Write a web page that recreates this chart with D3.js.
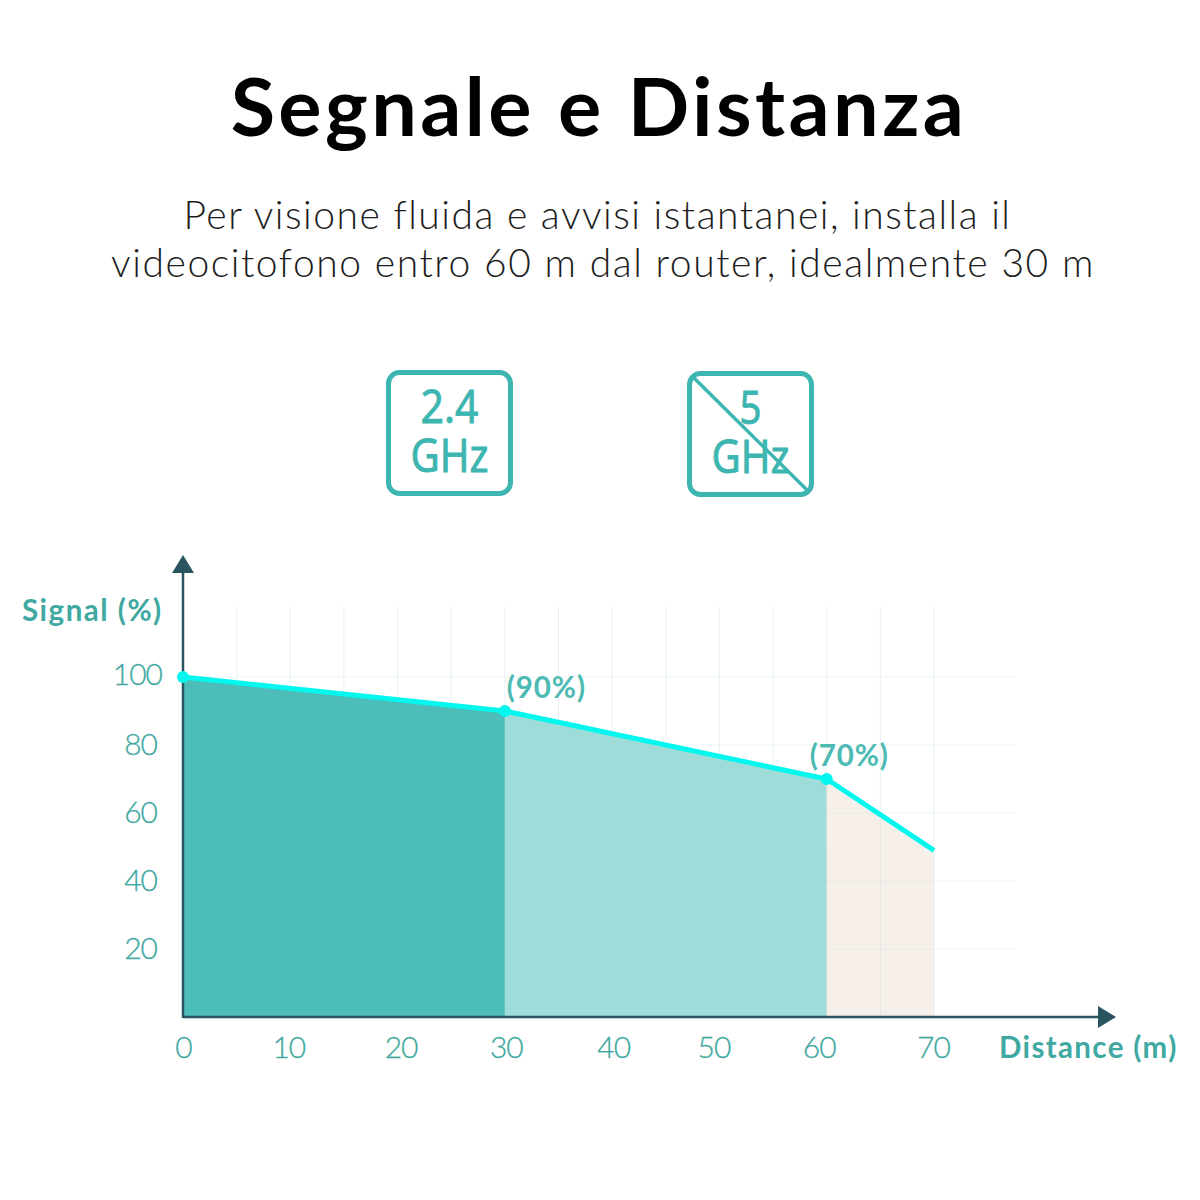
<!DOCTYPE html>
<html lang="it">
<head>
<meta charset="utf-8">
<title>Segnale e Distanza</title>
<script src="https://cdn.jsdelivr.net/npm/d3@7"></script>
<style>
  html, body { margin: 0; background: #fff; }
  svg { display: block; }
  text { font-family: Lato, "Noto Sans", sans-serif; }
</style>
</head>
<body>
<svg id="chart" width="1200" height="1200"></svg>
<script>
// Signal strength against distance from the router
const distances = [0, 30, 60, 70];
const signalValues = [100, 90, 70, 49];
const xTickValues = [0, 10, 20, 30, 40, 50, 60, 70];
const yTickValues = [20, 40, 60, 80, 100];
const xGridValues = [5, 10, 15, 20, 25, 30, 35, 40, 45, 50, 55, 60, 65, 70];
const zoneStarts = [0, 30, 60];
const zoneEnds = [30, 60, 70];
const zoneColors = ["#4dbdba", "#9ddcd9", "#f7efe9"];
const callouts = [{ distance: 30, text: "(90%)" }, { distance: 60, text: "(70%)" }];
const bands = ["2.4", "5"];

const TEAL = "#3fa9a1", BADGE = "#3db5b0", AXIS = "#2a5560", LINE = "#04f7ee";
const svg = d3.select("#chart");
const data = distances.map((d, i) => ({ d, s: signalValues[i] }));

const x = d3.scaleLinear().domain([0, 70]).range([183, 934]);
const y = d3.scaleLinear().domain([0, 100]).range([1017, 677]);

// Heading
svg.append("text").attr("x", 599).attr("y", 136).attr("text-anchor", "middle")
  .attr("font-size", 81).attr("font-weight", 700).attr("letter-spacing", 3.4).attr("fill", "#000")
  .text("Segnale e Distanza");
[["Per visione fluida e avvisi istantanei, installa il", 597.5, 229, 1.5],
 ["videocitofono entro 60 m dal router, idealmente 30 m", 603, 277, 1.57]].forEach(([t, px, py, sp]) => {
  svg.append("text").attr("x", px).attr("y", py).attr("text-anchor", "middle")
    .attr("font-size", 39).attr("font-weight", 300).attr("letter-spacing", sp).attr("fill", "#1c1c1c").text(t);
});

// Frequency badges: 2.4 GHz supported, 5 GHz struck through
const badge = svg.selectAll("g.badge").data(bands).join("g").attr("class", "badge")
  .attr("transform", (d, i) => `translate(${i ? 689.5 : 388.5},${i ? 373.5 : 372.5})`);
badge.append("rect").attr("width", 122).attr("height", 121).attr("rx", 11)
  .attr("fill", "#fff").attr("stroke", BADGE).attr("stroke-width", 5);
badge.append("text").attr("x", 61).attr("y", 50.5).attr("text-anchor", "middle")
  .style("font-family", "'Noto Sans'").attr("font-size", 46).attr("fill", BADGE)
  .attr("stroke", BADGE).attr("stroke-width", 0.8)
  .attr("textLength", d => (d === "5" ? 22 : 58)).attr("lengthAdjust", "spacingAndGlyphs").text(d => d);
badge.append("text").attr("x", 61).attr("y", 99).attr("text-anchor", "middle")
  .style("font-family", "'Noto Sans'").attr("font-size", 46).attr("fill", BADGE)
  .attr("stroke", BADGE).attr("stroke-width", 0.8)
  .attr("textLength", 78).attr("lengthAdjust", "spacingAndGlyphs").text("GHz");
badge.filter(d => d === "5").append("line").attr("x1", 3).attr("y1", 3).attr("x2", 119).attr("y2", 118)
  .attr("stroke", BADGE).attr("stroke-width", 3.5);

// Coverage zones under the signal curve; the grid shows through all but the first
const area = d3.area().x(p => x(p.d)).y0(y(0)).y1(p => y(p.s));
const drawZone = i => {
  const seg = data.filter(p => p.d >= zoneStarts[i] && p.d <= zoneEnds[i]);
  svg.append("path").datum(seg).attr("d", area).attr("fill", zoneColors[i]);
};
drawZone(1);
drawZone(2);

// Grid
svg.append("g").selectAll("line").data(xGridValues).join("line")
  .attr("x1", d => x(d)).attr("x2", d => x(d)).attr("y1", 607).attr("y2", y(0))
  .attr("stroke", "#b9d6dc").attr("stroke-opacity", 0.32);
svg.append("g").selectAll("line").data(yTickValues).join("line")
  .attr("x1", x(0)).attr("x2", 1016).attr("y1", d => y(d)).attr("y2", d => y(d))
  .attr("stroke", "#b9d6dc").attr("stroke-opacity", 0.2);
drawZone(0);

// Tick labels
const xLabelNudge = { 10: -2, 20: 3, 30: 1, 40: 1, 50: -6, 60: -8, 70: -1 };
const yLabelNudge = { 20: -5, 40: -5, 60: -5, 80: -5, 100: 0 };
const xAxis = svg.append("g").attr("transform", `translate(0,${y(0)})`)
  .call(d3.axisBottom(x).tickValues(xTickValues).tickSize(0).tickPadding(20).tickFormat(d3.format("d")));
const yAxis = svg.append("g").attr("transform", `translate(${x(0)},0)`)
  .call(d3.axisLeft(y).tickValues(yTickValues).tickSize(0).tickPadding(21).tickFormat(d3.format("d")));
[xAxis, yAxis].forEach(a => {
  a.select(".domain").remove();
  a.selectAll("text").style("font-family", "Lato").attr("font-size", 30).attr("font-weight", 300)
    .attr("letter-spacing", -1).attr("fill", TEAL).attr("stroke", TEAL).attr("stroke-width", 0.3);
});
xAxis.selectAll("text").attr("dx", d => xLabelNudge[d] || 0).attr("dy", "0.71em");
yAxis.selectAll("text").attr("dx", d => yLabelNudge[d]).attr("dy", d => (d === 100 ? "0.26em" : "0.31em"));

// Axis lines with arrowheads
svg.append("line").attr("x1", x(0)).attr("x2", x(0)).attr("y1", 570).attr("y2", y(0) + 1)
  .attr("stroke", AXIS).attr("stroke-width", 2.5);
svg.append("line").attr("x1", x(0)).attr("x2", 1100).attr("y1", y(0)).attr("y2", y(0))
  .attr("stroke", AXIS).attr("stroke-width", 2.5);
svg.append("path").attr("d", d3.line()([[x(0), 555], [x(0) + 11, 573], [x(0) - 11, 573]]) + "Z").attr("fill", AXIS);
svg.append("path").attr("d", d3.line()([[1116, y(0)], [1098, y(0) - 11], [1098, y(0) + 11]]) + "Z").attr("fill", AXIS);

// Axis titles
svg.append("text").attr("x", 22).attr("y", 621).attr("font-size", 29.5).attr("font-weight", 700)
  .attr("letter-spacing", 1.5).attr("fill", TEAL).text("Signal (%)");
svg.append("text").attr("x", 999).attr("y", 1058).attr("font-size", 29.5).attr("font-weight", 700)
  .attr("letter-spacing", 1.35).attr("fill", TEAL).text("Distance (m)");

// Signal curve and its markers
svg.append("path").datum(data).attr("fill", "none").attr("stroke", LINE).attr("stroke-width", 5)
  .attr("d", d3.line().x(p => x(p.d)).y(p => y(p.s)));
svg.selectAll("circle").data(data.slice(0, 3)).join("circle")
  .attr("cx", p => x(p.d)).attr("cy", p => y(p.s)).attr("r", 6).attr("fill", LINE);

// Callouts at the two recommended distances
svg.selectAll("text.callout").data(callouts).join("text").attr("class", "callout")
  .attr("x", c => x(c.distance) + (c.distance === 30 ? 2 : -17))
  .attr("y", c => (c.distance === 30 ? 698 : 766))
  .attr("font-size", 29.5).attr("font-weight", 700).attr("letter-spacing", 0.9).attr("fill", "#4dbab3").text(c => c.text);
</script>
</body>
</html>
